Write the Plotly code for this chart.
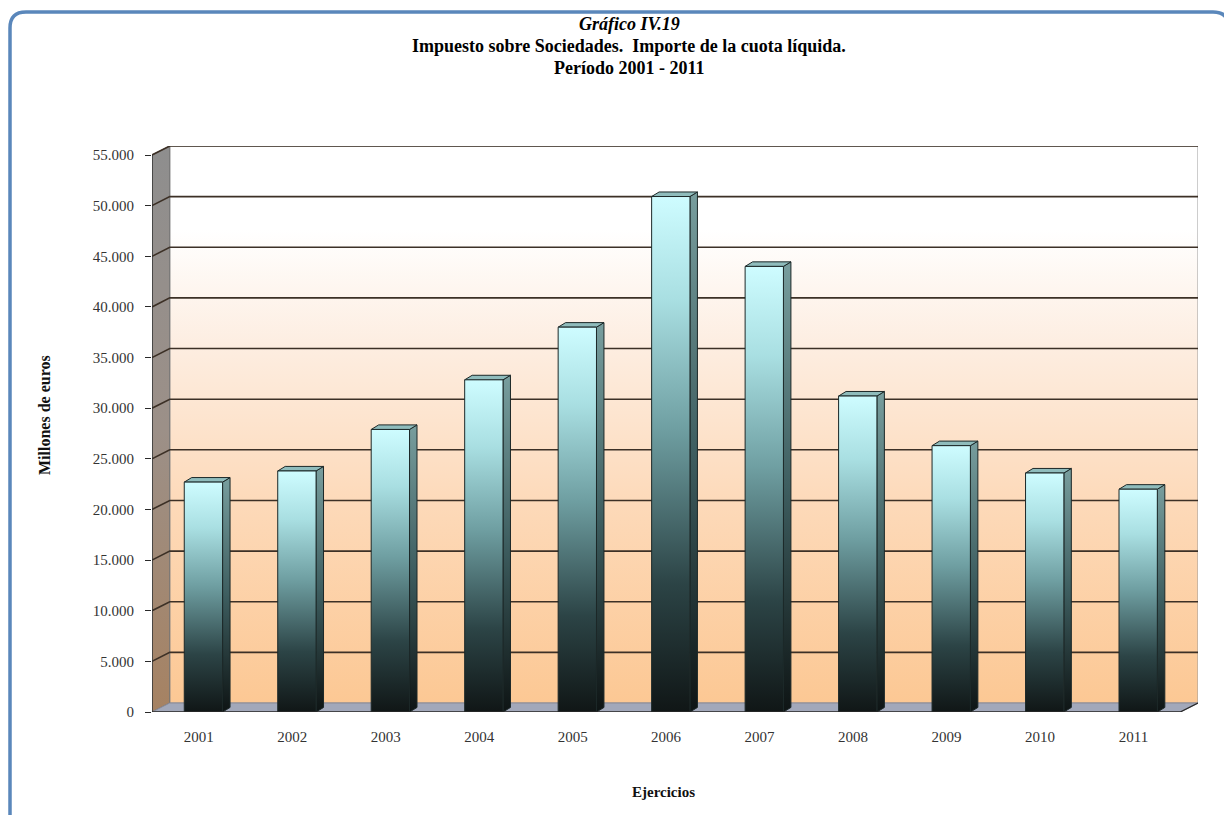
import plotly.graph_objects as go

years = ["2001", "2002", "2003", "2004", "2005", "2006",
         "2007", "2008", "2009", "2010", "2011"]
cuota = [22700, 23800, 27900, 32800, 38000, 50900,
         44000, 31200, 26300, 23600, 22000]
y_ticks = [0, 5000, 10000, 15000, 20000, 25000,
           30000, 35000, 40000, 45000, 50000, 55000]

title_lines = ["<i>Gráfico IV.19</i>",
               "Impuesto sobre Sociedades.  Importe de la cuota líquida.",
               "Período 2001 - 2011"]

# 3D look: depth of the walls and of the bars, in axis units
DX, DY = 0.19, 890
BW = 0.41          # bar front width
BDX, BDY = 0.08, 450
BOFF = 0.05
YMAX = 55000
X0, X1 = -0.5, len(years) - 0.5

SERIF = "Liberation Serif, Times New Roman, serif"

fig = go.Figure()


def poly(xs, ys, **kw):
    fig.add_trace(go.Scatter(
        x=xs + [xs[0]], y=ys + [ys[0]], mode="lines", fill="toself",
        hoverinfo="skip", showlegend=False, **kw))


# back wall
poly([X0 + DX, X1 + DX, X1 + DX, X0 + DX], [DY, DY, YMAX + DY, YMAX + DY],
     line=dict(color="#9a9a9a", width=1),
     fillgradient=dict(type="vertical", colorscale=[
         [0, "#fcc894"], [0.35, "#fdd9b8"], [0.65, "#fdeee2"],
         [0.85, "#ffffff"], [1, "#ffffff"]]))
# left wall
poly([X0, X0 + DX, X0 + DX, X0], [0, DY, YMAX + DY, YMAX],
     line=dict(color="#707070", width=1),
     fillgradient=dict(type="vertical", colorscale=[
         [0, "#a68262"], [0.5, "#9c9088"], [1, "#8e8e8e"]]))
# floor
poly([X0, X1, X1 + DX, X0 + DX], [0, 0, DY, DY],
     line=dict(color="#8a8a96", width=1), fillcolor="#a2a8ba")

# gridlines on back and side walls
gx, gy = [], []
for v in y_ticks[1:]:
    gx += [X0, X0 + DX, X1 + DX, None]
    gy += [v, v + DY, v + DY, None]
fig.add_trace(go.Scatter(x=gx, y=gy, mode="lines", hoverinfo="skip",
                         showlegend=False,
                         line=dict(color="#3c3026", width=1.6)))

# bars
for i, v in enumerate(cuota):
    xl = i + BOFF - BW / 2
    xr = i + BOFF + BW / 2
    # side face
    poly([xr, xr + BDX, xr + BDX, xr], [0, BDY, v + BDY, v],
         line=dict(color="#1c2828", width=1),
         fillgradient=dict(type="vertical", colorscale=[
             [0, "#0e1414"], [0.5, "#3e5e60"], [1, "#789e9e"]]))
    # top face
    poly([xl, xr, xr + BDX, xl + BDX], [v, v, v + BDY, v + BDY],
         line=dict(color="#1c2828", width=1), fillcolor="#8fbcbc")
    # front face
    poly([xl, xr, xr, xl], [0, 0, v, v],
         line=dict(color="#1c2828", width=1),
         fillgradient=dict(type="vertical", colorscale=[
             [0, "#101616"], [0.25, "#2c4446"], [0.55, "#6f9fa2"],
             [0.8, "#a9dfe2"], [1, "#cefcff"]]))

# front axis lines
fig.add_trace(go.Scatter(x=[X0, X0, None, X0, X1, X1 + DX],
                         y=[YMAX, 0, None, 0, 0, DY], mode="lines",
                         hoverinfo="skip", showlegend=False,
                         line=dict(color="#2a2a2a", width=1.3)))

# x tick marks at category boundaries on the front edge
tx, ty = [], []
for b in range(len(years) + 1):
    tx += [b - 0.5, b - 0.5, None]
    ty += [0, -600, None]
fig.add_trace(go.Scatter(x=tx, y=ty, mode="lines", hoverinfo="skip",
                         showlegend=False, cliponaxis=False,
                         line=dict(color="#2a2a2a", width=1.2)))

# the page body has an 8px margin; window coords below are compensated
OFF = 8
W, H = 1232 - OFF, 815 - OFF
# plot area in window pixels
L, R, T, B = 152, 1198, 146, 712


def px(x):
    return (x - L) / (R - L)


def py(y):
    return (B - y) / (B - T)


annotations = []
for txt, yy in zip(title_lines, [24, 46, 68]):
    annotations.append(dict(
        text="<b>" + txt + "</b>", x=px(629), y=py(yy), xref="paper",
        yref="paper", showarrow=False, xanchor="center", yanchor="middle",
        font=dict(family=SERIF, size=18, color="#000000")))
annotations.append(dict(
    text="<b>Millones de euros</b>", x=px(44), y=py(415), xref="paper",
    yref="paper", showarrow=False, textangle=-90, xanchor="center",
    font=dict(family=SERIF, size=16, color="#111111")))
annotations.append(dict(
    text="<b>Ejercicios</b>", x=px(663), y=py(792), xref="paper",
    yref="paper", showarrow=False, yanchor="middle",
    font=dict(family=SERIF, size=15, color="#111111")))

# rounded outer frame
r = 16
x0f, y0f, x1f, y1f = 10, 12, 1229, 830
frame = (f"M {px(x0f)},{py(y1f)} L {px(x0f)},{py(y0f + r)} "
         f"Q {px(x0f)},{py(y0f)} {px(x0f + r)},{py(y0f)} "
         f"L {px(x1f - r)},{py(y0f)} Q {px(x1f)},{py(y0f)} {px(x1f)},{py(y0f + r)} "
         f"L {px(x1f)},{py(y1f)}")

fig.update_layout(
    width=W, height=H,
    margin=dict(l=L - OFF, r=W - (R - OFF), t=T - OFF, b=H - (B - OFF)),
    paper_bgcolor="#ffffff", plot_bgcolor="rgba(0,0,0,0)",
    separators=",.",
    showlegend=False,
    annotations=annotations,
    shapes=[dict(type="path", path=frame, xref="paper", yref="paper",
                 line=dict(color="#5a87bb", width=3.5), layer="above")],
    xaxis=dict(
        range=[X0, X1 + DX], tickvals=list(range(len(years))),
        ticktext=years, showgrid=False, zeroline=False, showline=False,
        ticks="", tickfont=dict(family=SERIF, size=15, color="#333333"),
        ticklabelstandoff=14, fixedrange=True),
    yaxis=dict(
        range=[0, YMAX + DY], tickvals=y_ticks, tickformat=",d",
        showgrid=False, zeroline=False, showline=False,
        ticks="outside", ticklen=6, tickcolor="#2a2a2a",
        tickfont=dict(family=SERIF, size=15, color="#333333"),
        ticklabelstandoff=8, fixedrange=True),
)

fig.write_html("out.html")
